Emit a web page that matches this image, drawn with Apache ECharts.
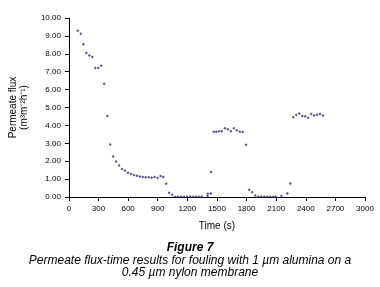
<!DOCTYPE html>
<html>
<head>
<meta charset="utf-8">
<script src="https://cdn.jsdelivr.net/npm/echarts@6/dist/echarts.min.js"></script>
<style>
  html, body { margin: 0; padding: 0; background: #fff; }
  #chart { width: 380px; height: 287px; }
</style>
</head>
<body>
<div id="chart"></div>
<script>
// time (s) and permeate flux
var times = [90, 120, 147, 177, 207, 237, 267, 297, 327, 357,
  390, 418, 448, 478, 508, 538, 568, 598, 628, 658,
  688, 718, 748, 778, 808, 838, 868, 898, 928, 956,
  986, 1016, 1046, 1076, 1106, 1136, 1166, 1196, 1226, 1256,
  1286, 1316, 1346, 1405, 1407, 1437, 1440, 1468, 1494, 1521,
  1548, 1581, 1611, 1641, 1671, 1702, 1732, 1762, 1795, 1827,
  1857, 1888, 1919, 1949, 1979, 2009, 2039, 2069, 2096, 2153,
  2213, 2243, 2273, 2303, 2333, 2364, 2394, 2424, 2454, 2484,
  2514, 2544, 2574];
var flux = [9.29, 9.12, 8.53, 8.04, 7.90, 7.82, 7.21, 7.21, 7.33, 6.33,
  4.53, 2.93, 2.26, 1.99, 1.76, 1.56, 1.48, 1.36, 1.28, 1.23,
  1.19, 1.15, 1.12, 1.10, 1.10, 1.08, 1.12, 1.06, 1.17, 1.12,
  0.74, 0.24, 0.12, 0.02, 0.02, 0.02, 0.02, 0.02, 0.02, 0.02,
  0.02, 0.02, 0.02, 0.05, 0.18, 0.20, 1.39, 3.65, 3.65, 3.67,
  3.67, 3.84, 3.78, 3.67, 3.84, 3.73, 3.65, 3.63, 2.92, 0.40,
  0.27, 0.08, 0.02, 0.02, 0.02, 0.02, 0.02, 0.02, 0.02, 0.05,
  0.19, 0.75, 4.45, 4.58, 4.67, 4.52, 4.51, 4.43, 4.64, 4.56,
  4.60, 4.64, 4.56];

var xTicks = [0, 3000, 300];   // min, max, step
var yTicks = [0, 10, 1];

var points = times.map(function(t, i) { return [t, flux[i]]; });

var chart = echarts.init(document.getElementById('chart'));
var font = 'Arial, "Liberation Sans", sans-serif';

chart.setOption({
  animation: false,
  textStyle: { fontFamily: font },
  title: [
    { text: 'Figure 7', left: 'center', top: 237,
      textStyle: { fontSize: 12, fontStyle: 'italic', fontWeight: 'bold', color: '#000', fontFamily: font } },
    { text: 'Permeate flux-time results for fouling with 1 \u00b5m alumina on a\n0.45 \u00b5m nylon membrane',
      left: 'center', top: 250,
      textStyle: { fontSize: 12, fontStyle: 'italic', fontWeight: 'normal', color: '#000', lineHeight: 12, fontFamily: font } }
  ],
  grid: { left: 66, right: 15, top: 18, bottom: 90 },
  xAxis: {
    type: 'value', min: xTicks[0], max: xTicks[1], interval: xTicks[2],
    name: 'Time (s)', nameLocation: 'middle', nameGap: 24,
    nameTextStyle: { fontSize: 10, color: '#000' },
    axisLine: { lineStyle: { color: '#000', width: 1 } },
    axisTick: { show: true, inside: false, length: 4, lineStyle: { color: '#000' } },
    axisLabel: { fontSize: 8, color: '#000', margin: 8,
      formatter: function(v) { return String(v); } },
    splitLine: { show: false }
  },
  yAxis: {
    type: 'value', min: yTicks[0], max: yTicks[1], interval: yTicks[2],
    name: 'Permeate flux\n(m\u00b3m\u207b\u00b2h\u207b\u00b9)', nameLocation: 'middle', nameGap: 32,
    nameTextStyle: { fontSize: 10, color: '#000', lineHeight: 11 },
    axisLine: { show: true, lineStyle: { color: '#000', width: 1 } },
    axisTick: { show: true, inside: false, length: 4, lineStyle: { color: '#000' } },
    axisLabel: { fontSize: 8, color: '#000', margin: 8,
      formatter: function(v) { return v.toFixed(2); } },
    splitLine: { show: false }
  },
  series: [{
    type: 'scatter',
    symbol: 'diamond',
    symbolSize: 3,
    itemStyle: { color: '#2c2c6c' },
    data: points
  }]
});
</script>
</body>
</html>
